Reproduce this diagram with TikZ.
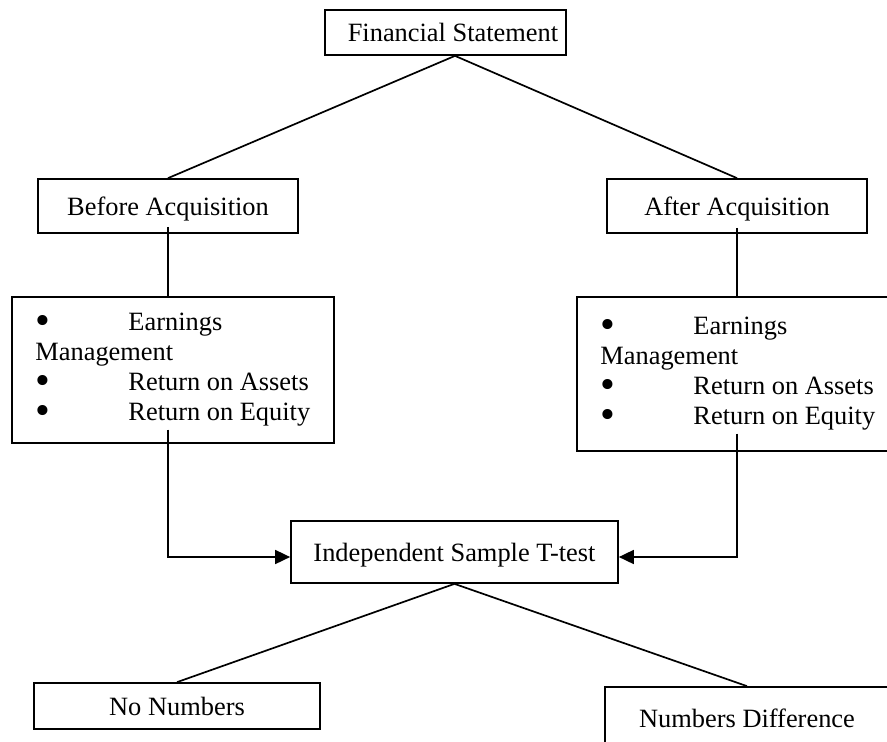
\documentclass[tikz,border=0pt]{standalone}
\usepackage{fontspec}
\setmainfont{Liberation Serif}
\usetikzlibrary{arrows.meta,calc}
\newcommand{\lbul}{\makebox[93pt][l]{\smash{\raisebox{-3.5pt}{\scalebox{1.6}{\textbullet}}}}}

\begin{document}
\begin{tikzpicture}[x=1pt,y=-1pt,line width=1.7pt,
	font=\fontsize{26.4}{30}\selectfont,
	box/.style={draw,text height=18pt,text depth=0pt,inner sep=0pt},
	listbox/.style={draw,anchor=north west,minimum width=322pt,align=left,inner sep=0pt},
	tip/.style={-{Triangle[length=15pt,width=14pt]}}]
			\useasboundingbox (0,0) rectangle (887,742);
			\node[box, minimum width=241pt, minimum height=45pt] (fs) at (445.5,32.5) {\hspace*{15pt}Financial Statement};
			\node[box, minimum width=260pt, minimum height=54pt] (before) at (168,206) {Before Acquisition};
			\node[box, minimum width=260pt, minimum height=54pt] (after) at (737,206) {After Acquisition};
			\node[listbox, minimum height=146pt] (llist) at (11,296) {\lbul Earnings\\Management\\\lbul Return on Assets\\\lbul Return on Equity};
			\node[listbox, minimum height=154pt] (rlist) at (576,296) {\lbul Earnings\\Management\\\lbul Return on Assets\\\lbul Return on Equity};
			\node[box, minimum width=327pt, minimum height=62pt] (ttest) at (454.5,552) {Independent Sample T-test};
			\node[box, minimum width=286pt, minimum height=46pt] (nonum) at (177,706) {No Numbers};
			\node[box, minimum width=284pt, minimum height=62pt] (numdiff) at (747,718) {Numbers Difference};
			\coordinate (fsapex) at ($(fs.south)+(9.5,0)$);
			\coordinate (lstart) at ($(before.south |- llist.south)+(0,-14)$);
			\coordinate (rstart) at ($(after.south |- rlist.south)+(0,-18)$);
			\draw (fsapex) -- (before.north);
			\draw (fsapex) -- (after.north);
			\draw ($(before.south)+(0,-7)$) -- (before.south |- llist.north);
			\draw ($(after.south)+(0,-6)$) -- (after.south |- rlist.north);
			\draw[tip] (lstart) |- ($(ttest.west)+(0,5)$);
			\draw[tip] (rstart) |- ($(ttest.east)+(0,5)$);
			\draw (ttest.south) -- (nonum.north);
			\draw (ttest.south) -- (numdiff.north);
		\end{tikzpicture}
\end{document}
